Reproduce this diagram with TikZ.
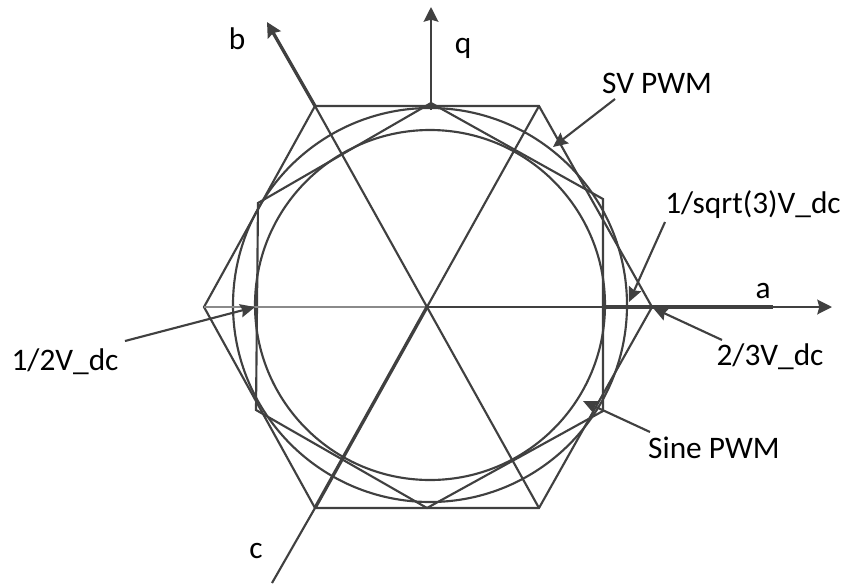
\documentclass[tikz,border=0pt]{standalone}
\usepackage{fontspec}
\setmainfont{Carlito}
\usetikzlibrary{arrows.meta}
\definecolor{ink}{HTML}{404040}
\definecolor{lightink}{HTML}{8A8A8A}
\begin{document}
\begin{tikzpicture}[x=0.75pt,y=-0.75pt,
  geo/.style={draw=ink,line width=1.6pt,line join=miter},
  grayline/.style={draw=lightink,line width=1.3pt},
  axisline/.style={draw=ink,line width=1.7pt},
  heavyaxis/.style={draw=ink,line width=2.5pt},
  tip/.style={-{Stealth[length=11pt,width=11pt,inset=1.5pt]}},
  callout/.style={draw=ink,line width=1.6pt,-{Stealth[length=11pt,width=10pt,inset=1.5pt]}},
  lbl/.style={anchor=base,inner sep=0pt,text=black,font=\fontsize{23.5}{28}\selectfont}]
\useasboundingbox (0,0) rectangle (843,583);
% outer hexagon
\coordinate (O1) at (315,106);
\coordinate (O2) at (539,106);
\coordinate (O3) at (652,307);
\coordinate (O4) at (539,508);
\coordinate (O5) at (315,508);
\coordinate (O6) at (204,307);
% inner hexagon
\coordinate (I1) at (431,103);
\coordinate (I2) at (603,199);
\coordinate (I3) at (603,411);
\coordinate (I4) at (427,508);
\coordinate (I5) at (256,410);
\coordinate (I6) at (258,203);
% centres
\coordinate (C) at (430,305);
\coordinate (Z) at (427,307);
% axis points
\coordinate (A1) at (605,307);
\coordinate (A2) at (773,307);
\coordinate (Atip) at (832,307);
\coordinate (Btip) at (267,22);
\coordinate (Cend) at (272,583);
\coordinate (Qbase) at (431,110);
\coordinate (Qtip) at (431,7);
% callout coordinates
\coordinate (svs) at (615,99);   \coordinate (svt) at (553,147);
\coordinate (r3s) at (665,222);  \coordinate (r3t) at (629,302);
\coordinate (tts) at (722,340);  \coordinate (ttt) at (653,308);
\coordinate (hs) at (125,341);   \coordinate (ht) at (255,307);
\coordinate (sps) at (650,432);  \coordinate (spt) at (583,401);

% shapes
\draw[geo] (O1)--(O2)--(O3)--(O4)--(O5)--(O6)--cycle;
\draw[geo] (I1)--(I2)--(I3)--(I4)--(I5)--(I6)--cycle;
\draw[geo] (C) circle[radius=197];
\draw[geo] (C) circle[radius=175];
\draw[geo] (Z)--(O4);
\draw[geo] (O2)--(Z);
\draw[grayline] (O6)--(Z);

% axes
\draw[axisline] (Z)--(A1);
\draw[heavyaxis] (A1)--(A2);
\draw[axisline,tip] (A2)--(Atip);
\draw[geo] (Z)--(O1);
\draw[heavyaxis,tip] (O1)--(Btip);
\draw[heavyaxis] (Z)--(O5);
\draw[geo] (O5)--(Cend);
\draw[axisline,tip] (Qbase)--(Qtip);

% callouts
\draw[callout] (svs)--(svt);
\draw[callout] (r3s)--(r3t);
\draw[callout] (tts)--(ttt);
\draw[callout] (hs)--(ht);
\draw[callout] (sps)--(spt);

% labels
\node[lbl] (lb) at (237,49) {b};
\node[lbl] (lq) at (463,53) {q};
\node[lbl] (la) at (763,298) {a};
\node[lbl] (lc) at (256,558) {c};
\node[lbl] (lsv) at (657,93) {SV PWM};
\node[lbl] (lr3) at (753,213) {1/sqrt(3)V\_dc};
\node[lbl] (ltt) at (770,365) {2/3V\_dc};
\node[lbl] (lh) at (65,370) {1/2V\_dc};
\node[lbl] (lsp) at (714,458) {Sine PWM};
\end{tikzpicture}
\end{document}
